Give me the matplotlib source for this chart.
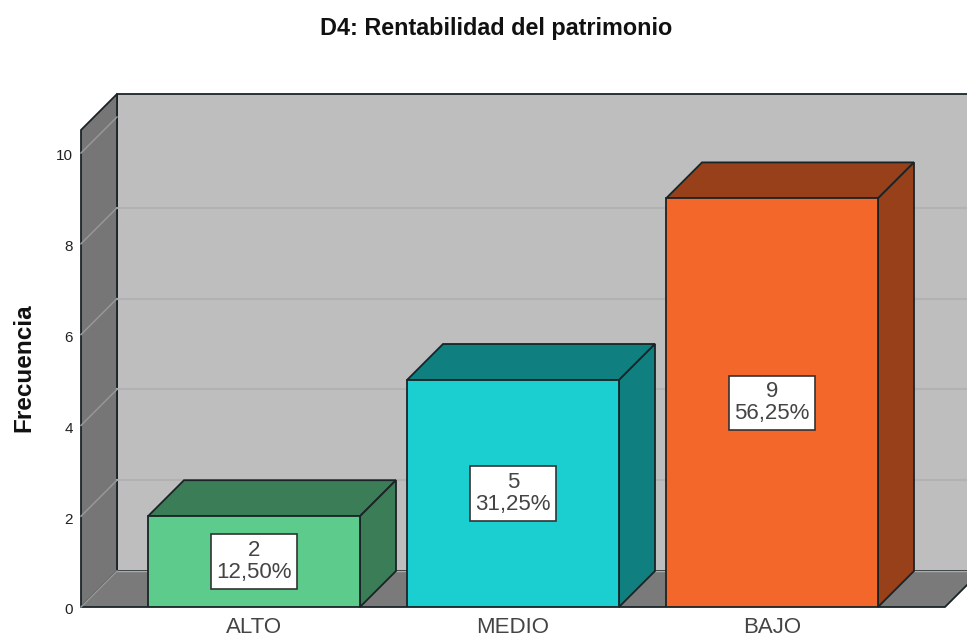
import matplotlib
matplotlib.use("Agg")
import matplotlib.pyplot as plt
from matplotlib.patches import Polygon
from matplotlib.transforms import ScaledTranslation

plt.rcParams['font.family'] = ['Liberation Sans', 'DejaVu Sans']

categories = ["ALTO", "MEDIO", "BAJO"]
counts = [2, 5, 9]
percents = ["12,50%", "31,25%", "56,25%"]
yticks = [0, 2, 4, 6, 8, 10]
front_colors = ["#5CCB8B", "#1BCFD0", "#F4672A"]
dark_colors = ["#3A7D56", "#0F7F80", "#97401A"]
title = "D4: Rentabilidad del patrimonio"
ylabel = "Frecuencia"

W, H = 967, 639
fig = plt.figure(figsize=(W / 100, H / 100), dpi=100, facecolor="white")
# axes box in pixels: left 81, right 967, floor 607, top of front plane 130
ax = fig.add_axes([81 / W, (H - 607) / H, (967 - 81) / W, (607 - 130) / H])
px_x = 259.0      # pixels per category
px_y = 45.4       # pixels per count
ax.set_xlim((81 - 254) / px_x, (967 - 254) / px_x)
ax.set_ylim(0, (607 - 130) / px_y)
for s in ax.spines.values():
    s.set_visible(False)
ax.patch.set_visible(False)

dx = 36 / px_x
dy = 36 / px_y
bw = 212 / px_x
x0, x1 = ax.get_xlim()
ytop = ax.get_ylim()[1]
xfloor_end = (945 - 254) / px_x
EDGE = "#1a2426"
LW = 1.3


def poly(pts, fc, ec=EDGE, lw=LW, z=1):
    ax.add_patch(Polygon(pts, closed=True, fc=fc, ec=ec, lw=lw, zorder=z,
                         clip_on=False, joinstyle="miter"))


# back wall, side wall, floor
poly([(x0 + dx, dy), (x1 + 1, dy), (x1 + 1, ytop + dy), (x0 + dx, ytop + dy)], "#BEBEBE", z=1)
poly([(x0, 0), (x0 + dx, dy), (x0 + dx, ytop + dy), (x0, ytop)], "#767676", z=1.1)
poly([(x0, 0), (x0 + dx, dy), (xfloor_end + dx, dy), (xfloor_end, 0)], "#7A7A7A", ec="none", z=1.2)
ax.plot([x0, xfloor_end, xfloor_end + dx], [0, 0, dy], color=EDGE, lw=LW, zorder=1.3, clip_on=False)
ax.plot([x0 + dx, x1], [dy, dy], color="#ABABAB", lw=1.0, zorder=1.25)

# gridlines on walls
for v in yticks:
    ax.plot([x0, x0 + dx], [v, v + dy], color="#979797", lw=1.1, zorder=1.4, clip_on=False)
    if v > 0:
        ax.plot([x0 + dx, x1], [v + dy, v + dy], color="#B2B2B2", lw=1.5, zorder=1.15)

# bars
xs = list(range(len(categories)))
ax.bar(xs, counts, width=bw, color=front_colors, edgecolor=EDGE, linewidth=LW, zorder=3)
for x, v, dark in zip(xs, counts, dark_colors):
    l, r = x - bw / 2, x + bw / 2
    poly([(l, v), (l + dx, v + dy), (r + dx, v + dy), (r, v)], dark, z=2.5)
    poly([(r, 0), (r + dx, dy), (r + dx, v + dy), (r, v)], dark, z=2.5)

# value boxes
for x, v, p in zip(xs, counts, percents):
    ax.text(x, v / 2, f"{v}\n{p}", ha="center", va="center", fontsize=16,
            color="#444444", linespacing=1.08, zorder=5,
            bbox=dict(boxstyle="square,pad=0.25", fc="white", ec="#333333", lw=1.2))

ax.set_xticks(xs, categories, fontsize=16, color="#444444")
ax.set_yticks(yticks, [str(v) for v in yticks], fontsize=11, color="#222222")
ax.tick_params(axis="both", length=0)
ax.tick_params(axis="x", pad=7)
ax.tick_params(axis="y", pad=6)
shift = ScaledTranslation(0, -2 / 100, fig.dpi_scale_trans)
for lab in ax.get_yticklabels():
    lab.set_transform(lab.get_transform() + shift)

fig.text(496 / W, 1 - 28 / H, title, ha="center", va="center", fontsize=16.8, fontweight="bold", color="#111111")
fig.text(24 / W, 1 - 368 / H, ylabel, ha="center", va="center", rotation=90,
         fontsize=17.5, fontweight="bold", color="#111111")

fig.savefig("out.png", dpi=100)
